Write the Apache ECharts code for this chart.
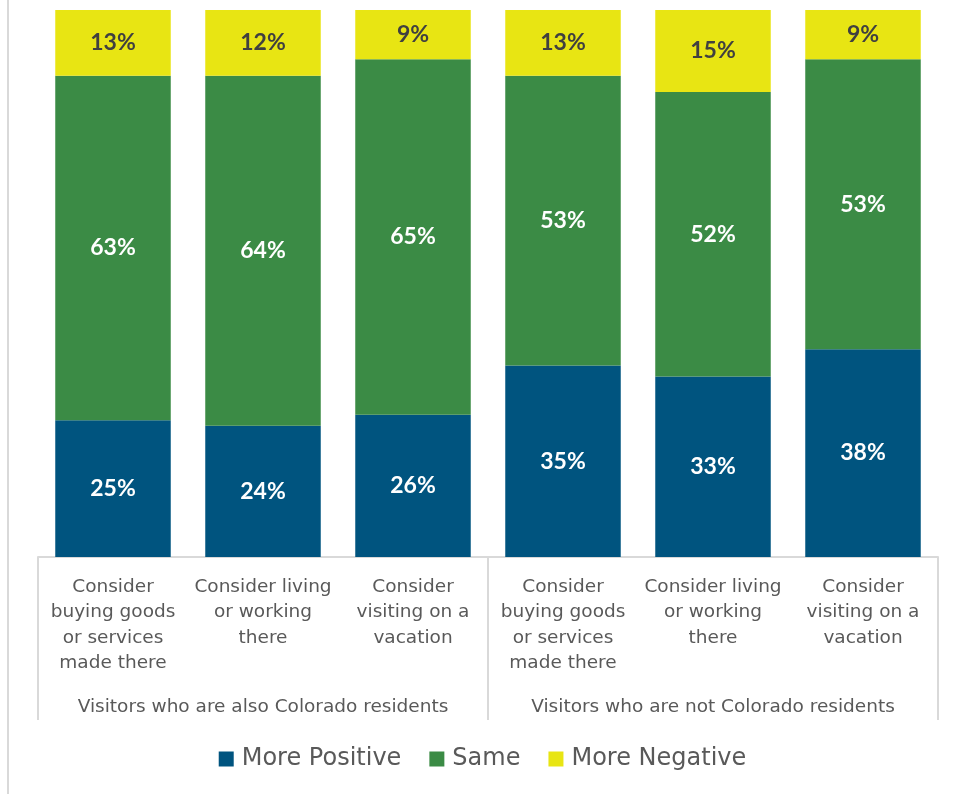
<!DOCTYPE html>
<html>
<head>
<meta charset="utf-8">
<script src="https://cdn.jsdelivr.net/npm/echarts@6/dist/echarts.min.js"></script>
<style>
  html, body { margin: 0; padding: 0; background: #fff; }
  #chart { width: 965px; height: 794px; }
</style>
</head>
<body>
<div id="chart"></div>
<script>
var categories = [
  'Consider\nbuying goods\nor services\nmade there',
  'Consider living\nor working\nthere',
  'Consider\nvisiting on a\nvacation',
  'Consider\nbuying goods\nor services\nmade there',
  'Consider living\nor working\nthere',
  'Consider\nvisiting on a\nvacation'
];
var groups = ['Visitors who are also Colorado residents', 'Visitors who are not Colorado residents'];
var morePositive = [25, 24, 26, 35, 33, 38];
var same = [63, 64, 65, 53, 52, 53];
var moreNegative = [13, 12, 9, 13, 15, 9];

var textFont = 'DejaVu Sans';
var labelFont = 'Lato';
var myChart = echarts.init(document.getElementById('chart'));

function seriesOf(name, data, color, textColor) {
  return {
    name: name,
    type: 'bar',
    stack: 'total',
    barCategoryGap: '23%',
    clip: true,
    data: data,
    itemStyle: { color: color },
    label: {
      show: true,
      position: 'inside',
      formatter: '{c}%',
      color: textColor,
      fontFamily: labelFont,
      fontWeight: 'bold',
      fontSize: 23
    }
  };
}

var option = {
  animation: false,
  grid: { left: 38, right: 27, top: 10, bottom: 237 },
  legend: {
    bottom: 18,
    left: 'center',
    itemWidth: 15,
    itemHeight: 15,
    itemGap: 28,
    icon: 'rect',
    textStyle: { fontFamily: textFont, fontSize: 24, color: '#595959', padding: [0, 0, 0, 3] },
    data: ['More Positive', 'Same', 'More Negative']
  },
  xAxis: [
    {
      type: 'category',
      data: categories,
      axisLine: { lineStyle: { color: '#d9d9d9', width: 2 } },
      axisTick: { show: false },
      axisLabel: {
        interval: 0,
        margin: 17,
        fontFamily: textFont,
        fontSize: 18.5,
        lineHeight: 25.5,
        color: '#595959'
      }
    },
    {
      type: 'category',
      position: 'bottom',
      data: groups,
      axisLine: { show: false },
      axisTick: { show: true, interval: 0, length: 163, lineStyle: { color: '#d9d9d9', width: 2 } },
      axisLabel: {
        interval: 0,
        hideOverlap: false,
        margin: 141,
        fontFamily: textFont,
        fontSize: 18.5,
        color: '#595959'
      }
    }
  ],
  yAxis: {
    type: 'value',
    min: 0,
    max: 100,
    show: false
  },
  graphic: [
    {
      type: 'line',
      shape: { x1: 8, y1: 0, x2: 8, y2: 794 },
      style: { stroke: '#d9d9d9', lineWidth: 2 }
    }
  ],
  series: [
    seriesOf('More Positive', morePositive, '#00547f', '#ffffff'),
    seriesOf('Same', same, '#3b8b45', '#ffffff'),
    seriesOf('More Negative', moreNegative, '#e8e513', '#404040')
  ]
};

myChart.setOption(option);
</script>
</body>
</html>
